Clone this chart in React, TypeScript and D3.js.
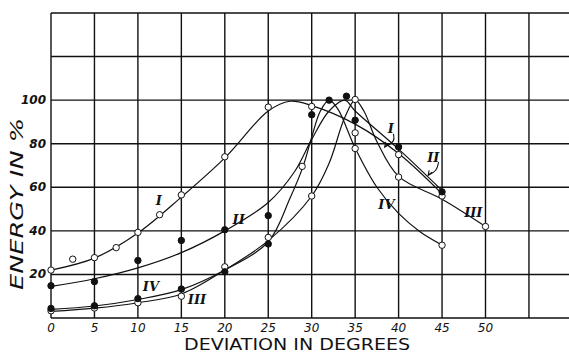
import { useEffect, useRef } from "react";
import * as d3 from "d3";

// drawn curves (deviation in degrees, energy in %)
const curveI = [[0, 22], [5, 27.5], [10, 39], [15, 55.5], [20, 73.5], [25, 95], [27.5, 99.5], [30, 97.5], [35, 89], [40, 75.5], [45, 57]];
const curveII = [[0, 14.5], [5, 18], [10, 23], [15, 30], [20, 40], [25, 53], [28, 67], [30, 82], [32, 95], [33.8, 100], [35, 95], [40, 77.5], [45, 58.5]];
const curveIII = [[0, 3], [5, 4.5], [10, 7], [15, 11], [20, 22], [25, 35.5], [30, 56], [32, 71], [33.8, 92], [35, 100], [36, 95], [37.5, 81], [40, 65], [45, 54.5], [50, 42]];
const curveIV = [[0, 4], [5, 5.5], [10, 8.5], [15, 13], [20, 22], [25, 35], [27.5, 55], [29, 69.5], [30, 83], [31, 95], [32, 100], [33, 96], [35, 78], [37.5, 60], [40, 48], [42.5, 39.5], [45, 33.5]];

// observed points
const pointsIOpen = [[0, 22], [2.5, 27], [5, 27.7], [7.5, 32.3], [10, 39.3], [12.5, 47.4], [15, 56.5], [20, 74], [25, 96.8], [30, 97.1], [35, 85], [40, 75]];
const pointsIIFilled = [[0, 14.8], [5, 16.7], [10, 26.4], [15, 35.6], [20, 40.5], [25, 47], [30, 93.3], [34, 101.8], [35, 90.8], [40, 78.5], [45, 57.9]];
const pointsIIIOpen = [[0, 3.3], [5, 4.6], [10, 7], [15, 10], [20, 23.5], [25, 37], [30, 56], [35, 100.3], [40, 64.7], [45, 56], [50, 42]];
const pointsIVFilled = [[0, 4.4], [5, 5.6], [10, 8.9], [15, 13.3], [20, 21.2], [25, 34], [32, 100]];
const pointsIVOpen = [[28.9, 69.6], [35, 77.8], [45, 33.4]];

// curve labels
const curveLabels = [
  { text: "I", x: 12.4, y: 54 },
  { text: "II", x: 21.6, y: 45.5 },
  { text: "IV", x: 11.5, y: 14.5 },
  { text: "III", x: 16.8, y: 8.5 },
  { text: "I", x: 39.1, y: 87 },
  { text: "II", x: 44, y: 74 },
  { text: "IV", x: 38.6, y: 52.5 },
  { text: "III", x: 48.6, y: 48.5 },
];

const xTicks = [0, 5, 10, 15, 20, 25, 30, 35, 40, 45, 50];
const yTicks = [20, 40, 60, 80, 100];
const xGrid = [0, 5, 10, 15, 20, 25, 30, 35, 40, 45, 50, 55];
const yGrid = [0, 20, 40, 60, 80, 100, 120, 140];

export default function App() {
  const svgRef = useRef(null);

  useEffect(() => {
    const W = 569;
    const H = 356;
    const svg = d3.select(svgRef.current);
    svg.selectAll("*").remove();
    svg.attr("width", W).attr("height", H).style("background", "#fff");

    const x = d3.scaleLinear().domain([0, 60]).range([51, 572.4]);
    const y = d3.scaleLinear().domain([0, 140]).range([318, 13]);

    // grid
    svg.append("g")
      .selectAll("line")
      .data(xGrid)
      .join("line")
      .attr("x1", d => x(d))
      .attr("x2", d => x(d))
      .attr("y1", y(0))
      .attr("y2", y(140))
      .attr("stroke", "#111")
      .attr("stroke-width", 1.4);

    svg.append("g")
      .selectAll("line")
      .data(yGrid)
      .join("line")
      .attr("x1", x(0))
      .attr("x2", W)
      .attr("y1", d => y(d))
      .attr("y2", d => y(d))
      .attr("stroke", "#111")
      .attr("stroke-width", 1.4);

    // tick labels
    const tickFont = "'DejaVu Sans', sans-serif";
    svg.append("g")
      .selectAll("text")
      .data(xTicks)
      .join("text")
      .attr("x", d => x(d))
      .attr("y", 332)
      .attr("text-anchor", "middle")
      .style("font-family", tickFont)
      .style("font-style", "italic")
      .style("font-size", "12px")
      .attr("fill", "#111")
      .text(d => d);

    svg.append("g")
      .selectAll("text")
      .data(yTicks)
      .join("text")
      .attr("x", 46)
      .attr("y", d => y(d) + 4)
      .attr("text-anchor", "end")
      .style("font-family", tickFont)
      .style("font-style", "italic")
      .style("font-weight", "bold")
      .style("font-size", "12px")
      .attr("fill", "#111")
      .text(d => d);

    // axis titles
    svg.append("text")
      .attr("x", 297)
      .attr("y", 350)
      .attr("text-anchor", "middle")
      .attr("textLength", 226)
      .attr("lengthAdjust", "spacingAndGlyphs")
      .style("font-family", tickFont)
      .style("font-size", "16px")
      .attr("fill", "#111")
      .text("DEVIATION IN DEGREES");

    svg.append("text")
      .attr("transform", "translate(23,204) rotate(-90)")
      .attr("text-anchor", "middle")
      .attr("textLength", 172)
      .attr("lengthAdjust", "spacingAndGlyphs")
      .style("font-family", tickFont)
      .style("font-style", "italic")
      .style("font-size", "17px")
      .attr("fill", "#111")
      .text("ENERGY IN %");

    // curves
    const line = d3.line()
      .x(d => x(d[0]))
      .y(d => y(d[1]))
      .curve(d3.curveCatmullRom.alpha(0.5));

    svg.append("g")
      .selectAll("path")
      .data([curveI, curveII, curveIII, curveIV])
      .join("path")
      .attr("d", d => line(d))
      .attr("fill", "none")
      .attr("stroke", "#111")
      .attr("stroke-width", 1.2);

    // markers
    const drawPoints = (pts, fill) => {
      svg.append("g")
        .selectAll("circle")
        .data(pts)
        .join("circle")
        .attr("cx", d => x(d[0]))
        .attr("cy", d => y(d[1]))
        .attr("r", 3.2)
        .attr("fill", fill)
        .attr("stroke", "#111")
        .attr("stroke-width", 1);
    };
    drawPoints(pointsIOpen, "#fff");
    drawPoints(pointsIIIOpen, "#fff");
    drawPoints(pointsIVOpen, "#fff");
    drawPoints(pointsIIFilled, "#111");
    drawPoints(pointsIVFilled, "#111");

    // curve labels
    svg.append("g")
      .selectAll("text")
      .data(curveLabels)
      .join("text")
      .attr("x", d => x(d.x))
      .attr("y", d => y(d.y) + 5)
      .attr("text-anchor", "middle")
      .style("font-family", "'DejaVu Serif', serif")
      .style("font-style", "italic")
      .style("font-weight", "bold")
      .style("font-size", "13px")
      .attr("fill", "#111")
      .text(d => d.text);

    // little arrows from the right-hand I and II labels
    const arrows = [
      [[39.4, 84.5], [39.6, 81], [38.4, 78.5]],
      [[44.6, 71.5], [44.4, 67.5], [43.4, 65.5]],
    ];
    const arrowLine = d3.line()
      .x(d => x(d[0]))
      .y(d => y(d[1]))
      .curve(d3.curveBasis);
    svg.append("g")
      .selectAll("path")
      .data(arrows)
      .join("path")
      .attr("d", d => arrowLine(d))
      .attr("fill", "none")
      .attr("stroke", "#111")
      .attr("stroke-width", 1.1);
    svg.append("g")
      .selectAll("path")
      .data(arrows)
      .join("path")
      .attr("d", d => {
        const tx = x(d[2][0]);
        const ty = y(d[2][1]);
        return `M${tx + 4},${ty - 3}L${tx},${ty}L${tx + 1},${ty - 5}`;
      })
      .attr("fill", "none")
      .attr("stroke", "#111")
      .attr("stroke-width", 1.1);
  }, []);

  return (
    <svg ref={svgRef} style={{ position: "absolute", left: 0, top: 0 }} />
  );
}
